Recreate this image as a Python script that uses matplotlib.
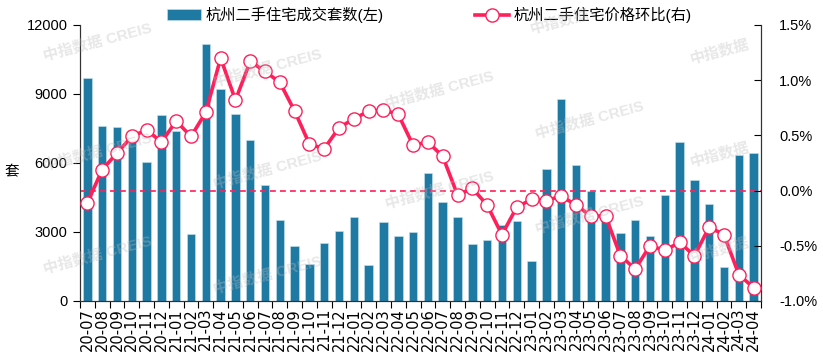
import numpy as np
import matplotlib
matplotlib.use('Agg')
import matplotlib.pyplot as plt
from matplotlib.ticker import FuncFormatter, FixedLocator

plt.rcParams['font.family'] = ['Liberation Sans', 'Noto Sans CJK SC', 'DejaVu Sans']

# months shown on the x axis
months = ['20-07', '20-08', '20-09', '20-10', '20-11', '20-12',
          '21-01', '21-02', '21-03', '21-04', '21-05', '21-06',
          '21-07', '21-08', '21-09', '21-10', '21-11', '21-12',
          '22-01', '22-02', '22-03', '22-04', '22-05', '22-06',
          '22-07', '22-08', '22-09', '22-10', '22-11', '22-12',
          '23-01', '23-02', '23-03', '23-04', '23-05', '23-06',
          '23-07', '23-08', '23-09', '23-10', '23-11', '23-12',
          '24-01', '24-02', '24-03', '24-04']

# second-hand housing transactions (units, left axis)
volume = [9700, 7590, 7580, 6950, 6060, 8070,
          7380, 2930, 11160, 9200, 8140, 6980,
          5040, 3520, 2380, 1610, 2520, 3060,
          3650, 1580, 3450, 2830, 3010, 5550,
          4300, 3640, 2460, 2640, 3290, 3480,
          1750, 5720, 8770, 5910, 4800, 3600,
          2960, 3520, 2810, 4590, 6930, 5260,
          4230, 1480, 6330, 6420]

# month-on-month price change (%, right axis)
price_mom = [-0.11, 0.19, 0.34, 0.49, 0.55, 0.44,
             0.63, 0.49, 0.71, 1.20, 0.82, 1.17,
             1.08, 0.98, 0.72, 0.42, 0.38, 0.57,
             0.65, 0.72, 0.73, 0.69, 0.41, 0.44,
             0.31, -0.04, 0.02, -0.13, -0.40, -0.15,
             -0.08, -0.09, -0.05, -0.13, -0.23, -0.23,
             -0.59, -0.71, -0.50, -0.54, -0.47, -0.59,
             -0.33, -0.40, -0.76, -0.88]

bar_label = '杭州二手住宅成交套数(左)'
line_label = '杭州二手住宅价格环比(右)'

bar_color = '#1f7aa3'
line_color = '#ff1f5a'

fig = plt.figure(figsize=(8.23, 3.56), dpi=100)
ax = fig.add_axes([0.0972, 0.1545, 0.8275, 0.7753])
ax2 = ax.twinx()

x = np.arange(len(months))
bars = ax.bar(x, volume, width=0.57, color=bar_color, edgecolor='#c9e2ee',
              linewidth=0.4, zorder=2, label=bar_label)
ax.set_xlim(-0.5, len(months) - 0.5)
ax.set_ylim(0, 12000)
ax.set_yticks([0, 3000, 6000, 9000, 12000])

ax2.axhline(0, color=line_color, linestyle=(0, (3.5, 2.5)), linewidth=1.2, zorder=1)
line, = ax2.plot(x, price_mom, color=line_color, linewidth=2.6, marker='o',
                 markersize=9.5, markerfacecolor='white', markeredgecolor=line_color,
                 markeredgewidth=1.0, zorder=3, label=line_label)
ax2.set_ylim(-1.0, 1.5)
ax2.set_yticks([-1.0, -0.5, 0.0, 0.5, 1.0, 1.5])
ax2.yaxis.set_major_formatter(FuncFormatter(lambda v, p: f'{v:.1f}%'))

# x axis: labels at category centres, tick marks between categories
ax.set_xticks(x)
ax.set_xticklabels(months, rotation=90, fontsize=10.5, family='DejaVu Sans')
ax.tick_params(axis='x', which='major', length=0, pad=5)
ax.xaxis.set_minor_locator(FixedLocator(np.arange(-0.5, len(months), 1)))
ax.tick_params(axis='x', which='minor', length=5, width=0.8, direction='out')

ax.tick_params(axis='y', length=5, width=0.8, direction='out', labelsize=10.5, pad=4)
ax2.tick_params(axis='y', length=5, width=0.8, direction='in', labelsize=10.5, pad=13)

for a in (ax, ax2):
    a.spines['top'].set_visible(False)
    for s in ('left', 'right', 'bottom'):
        a.spines[s].set_color('#333333')
        a.spines[s].set_linewidth(0.8)
ax.set_zorder(ax2.get_zorder() - 1)
ax.patch.set_visible(False)

fig.text(0.006, 0.515, '套', fontsize=10.5, ha='left', va='center')

fig.legend([bars, line], [bar_label, line_label], loc='center',
           bbox_to_anchor=(0.522, 0.958), ncol=2, frameon=False, fontsize=11,
           handlelength=2.2, handletextpad=0.3, columnspacing=6.0)

# faint watermarks
marks = [(98, 42, '中指数据 CREIS'), (268, 68, '中指数据 CREIS'), (440, 90, '中指数据 CREIS'),
         (590, 120, '中指数据 CREIS'), (720, 52, '中指数据'), (560, 22, '中指数据'),
         (98, 152, '中指数据 CREIS'), (268, 170, '中指数据 CREIS'), (440, 190, '中指数据 CREIS'),
         (590, 215, '中指数据 CREIS'), (720, 155, '中指数据'),
         (98, 255, '中指数据 CREIS'), (268, 275, '中指数据 CREIS'), (720, 250, '中指数据')]
for mx, my, txt in marks:
    fig.text(mx / 823, 1 - my / 356, txt, fontsize=11, fontweight='bold',
             color='#bbbbbb', alpha=0.35, rotation=15, ha='center', va='center', zorder=10)

fig.savefig('out.png', dpi=100)
